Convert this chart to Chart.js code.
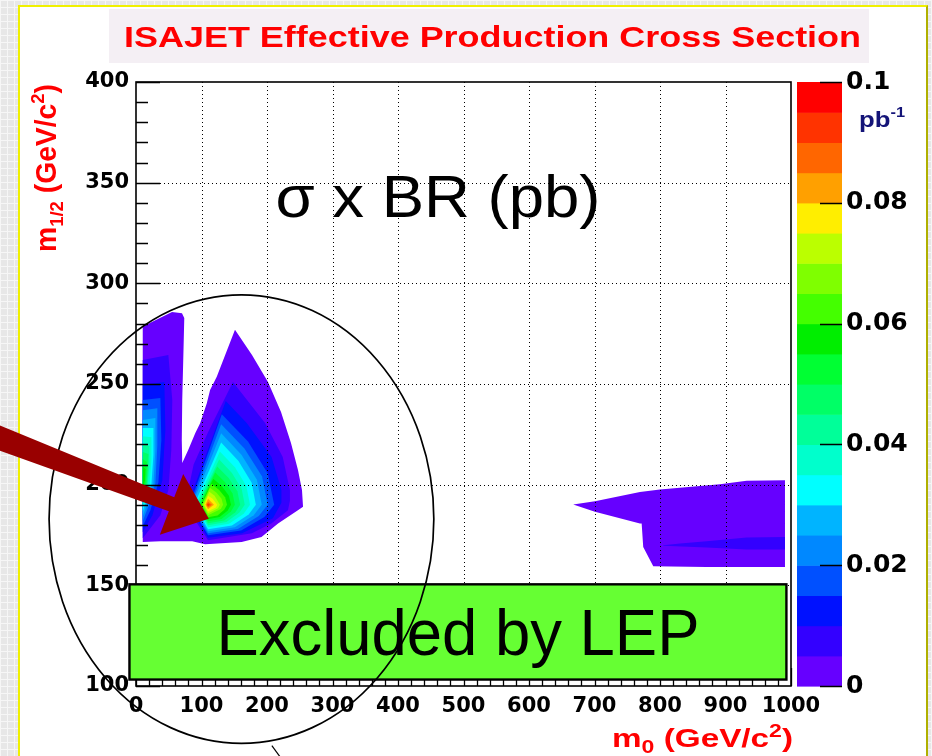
<!DOCTYPE html>
<html lang="en">
<head>
<meta charset="utf-8">
<title>ISAJET Effective Production Cross Section</title>
<script src="https://cdn.jsdelivr.net/npm/chart.js@4.4.1/dist/chart.umd.min.js"></script>
<style>
  html, body { margin: 0; padding: 0; }
  body {
    width: 932px; height: 756px; overflow: hidden; position: relative;
    background-color: #e7e7e7;
    background-image:
      linear-gradient(#f6f6f6 1px, transparent 1px),
      linear-gradient(90deg, #f6f6f6 1px, transparent 1px);
    background-size: 7px 7px;
  }
  #slide {
    position: absolute; left: 18px; top: 5px; width: 910px; height: 800px;
    box-sizing: border-box; background: #ffffff;
    border-left: 2px solid #f0f000; border-top: 2px solid #f0f000; border-right: 2px solid #b0b000;
  }
  #chart { position: absolute; left: 0; top: 0; }
</style>
</head>
<body>
<div id="slide"></div>
<canvas id="chart" width="932" height="756"></canvas>
<script>
// ---------- axes ----------
const X_TICKS = [0, 100, 200, 300, 400, 500, 600, 700, 800, 900, 1000];
const Y_TICKS = [100, 150, 200, 250, 300, 350, 400];
const Z_TICKS = [0, 0.02, 0.04, 0.06, 0.08, 0.1];

// ---------- contour levels (pb) and the palette of the 20 bands ----------
const CONTOUR_LEVELS = [0, 0.005, 0.01, 0.015, 0.02, 0.025, 0.03, 0.035, 0.04, 0.045, 0.05,
                        0.055, 0.06, 0.065, 0.07, 0.075, 0.08, 0.085, 0.09, 0.095, 0.1];
const BAND_COLORS = ['#6600ff', '#3300ff', '#0011ff', '#0050ff', '#0088ff', '#00b4ff', '#00ffff',
                     '#00ffcc', '#00ff99', '#00ff66', '#00ff33', '#00ee00', '#44ff00', '#7fff00',
                     '#bbff00', '#ffee00', '#ffa000', '#ff6600', '#ff3300', '#ff0000'];

// ---------- sigma x BR contours, (m0, m1/2) outlines ----------
// low-m0 island: outermost band (0 - 0.005 pb)
const islandBand0 = [[10.3,171.5],[10.3,278.5],[55,285.7],[70.2,285.2],[73.7,282.8],[72.9,271.9],
  [70.6,242],[69.9,222.1],[70.6,210.7],[79.7,217.2],[90.4,225.5],[97.9,230.5],[108.1,240.4],
  [113.1,247],[123.3,253.6],[151.1,276.9],[177.1,264.4],[201.5,251],[221.4,236.1],[236.6,220.7],
  [247.3,207.3],[253.4,197.4],[255,189],[247.2,187.3],[216.9,180.7],[191.6,174],[161.3,171.5],
  [105.5,170.4],[85.8,171.9],[37.2,171.9]];

// narrow strip along m0 ~ 10-70, bands 1..11
const stripBands = [
  [[10.3,261.9],[49.4,264.4],[55.4,242],[53.9,217.2],[49.4,197.3],[37.2,184.8],[10.3,173.4]],
  [[10.3,249.5],[43.3,251],[44.8,227.1],[40.2,202.2],[25.1,184.8],[10.3,176.4]],
  [[10.3,242],[37.2,243],[38.7,222.1],[34.2,201.2],[22,187.3],[10.3,179.4]],
  [[10.3,237],[32.6,238],[32.6,219.7],[29.6,200.7],[19,189.3],[10.3,181.8]],
  [[10.3,232.1],[29.6,233.1],[29.6,217.2],[26.6,200.2],[17.5,190.8],[10.3,184.3]],
  [[10.3,228.1],[26.6,228.1],[26.6,214.7],[23.5,199.8],[16,192.3],[10.3,186.8]],
  [[10.3,224.1],[23.5,223.6],[23.5,212.2],[20.5,199.3],[14.4,193.3],[10.3,189.3]],
  [[10.3,220.1],[20.5,219.2],[20.5,209.7],[17.5,198.8],[13.7,194.3],[10.3,191.3]],
  [[10.3,216.2],[19,215.2],[18.2,207.2],[15.9,198.3],[10.3,193.3]],
  [[10.3,212.7],[16.7,211.2],[15.9,204.7],[13.7,197.8],[10.3,195.3]],
  [[10.3,209.2],[14.4,207.7],[13.7,202.2],[10.3,197.3]]
];

// lobe peaking near m0 = 110, m1/2 = 190, bands 1..18
const peakBands = [
  [[148,251],[197,230.6],[224,213.7],[235,197.3],[235,192],[232,187.3],[207,180.8],[177,175.9],[110,172.4],[75,190],[88,210],[110,226]],
  [[137,241.5],[169,230.6],[207,213.7],[222,197.3],[222,191],[209,183.3],[162,175.9],[110,173.6],[79,190]],
  [[131,235],[171,221.5],[201,205.7],[211,190],[196,184],[160.5,177.2],[110,174.9],[82,190]],
  [[130,230],[165.5,218],[192.5,204],[201,190],[187.4,184.4],[155.5,178],[110,175.9],[84,190]],
  [[130,225.5],[161,214.9],[184.6,202.4],[192,190],[179.7,184.8],[151,178.9],[110,176.9],[86,190]],
  [[130,221],[156.5,211.7],[176.6,200.9],[183,190],[172,185.2],[146.5,179.7],[110,177.9],[89,190]],
  [[128,216.5],[151,208.6],[168.5,199.3],[174,190],[164.4,185.6],[142,180.6],[110,178.9],[91,190]],
  [[127,212.5],[146.5,205.8],[161.3,197.9],[166,190],[157.6,186],[138,181.4],[110,179.9],[93,190]],
  [[124,209],[141.5,203.3],[154.8,196.7],[159,190],[151.7,186.3],[134.5,182.2],[110,180.8],[95,190]],
  [[121,206],[136,201.2],[147.4,195.6],[151,190],[144.9,186.7],[130.5,183],[110,181.8],[97,190]],
  [[118,203],[131.5,199.1],[141.8,194.5],[145,190],[139.8,187.1],[127.5,183.9],[110,182.8],[98.5,190]],
  [[115,200.5],[127,197.4],[136,193.7],[139,190],[134.7,187.5],[124.5,184.7],[110,183.8],[100,190]],
  [[113,198.5],[123,196],[130.6,193],[133,190],[129.5,187.9],[110,184.8],[101.5,190]],
  [[112,196.5],[120,194.5],[128,190],[125.3,188.3],[110,185.8],[103,190]],
  [[110,194.5],[117,193],[124,190],[121.9,188.7],[110,186.8],[104.5,190]],
  [[110,193],[119,190],[110,187.8],[106,190]],
  [[110,191.5],[116,190],[110,188.6],[107.5,190]],
  [[110,190.6],[113,190],[110,189.3],[108.5,190]]
];

// high-m0 tongue, bands 0..1
const highMassBands = [
  [[667.5,190.2],[700.7,191.8],[769.4,196.4],[799.9,197.6],[891.5,200.2],[932.3,201.9],[990.8,202.2],
   [990.8,159.1],[871.3,159.1],[789.7,159.5],[774.4,169.1],[772,180.7],[769.4,180.7],[700.7,186.5]],
  [[805,169.9],[830.5,170.8],[871.3,171.9],[932.3,173.7],[990.8,174],[990.8,167.8],[932.3,167.8],
   [871.3,168.8],[805,169.7]]
];

// ---------- annotations (data units) ----------
const lepBoxX = [-10, 993];
const lepBoxY = [103.2, 150.5];
const circleCentre = [161, 182.9];
const circleRadii = [293.7, 111.4];
const circleLeader = [[207.4, 70.4], [224.2, 62.9]];
const arrowTail = [-223.3, 225.0];
const arrowTip = [111.2, 183.1];

const TITLE = 'ISAJET Effective Production Cross Section';
const PLOT_NOTE = 'σ x BR (pb)';
const BOX_LABEL = 'Excluded by LEP';

// ---------- datasets ----------
function contour(points, band) {
  return {
    type: 'line',
    data: points.map(p => ({ x: p[0], y: p[1] })),
    backgroundColor: BAND_COLORS[band],
    borderWidth: 0,
    pointRadius: 0,
    pointHoverRadius: 0,
    fill: 'shape',
    tension: 0,
    xAxisID: 'x',
    yAxisID: 'y',
    order: 100 - band
  };
}
const datasets = [contour(islandBand0, 0)];
stripBands.forEach((p, i) => datasets.push(contour(p, i + 1)));
peakBands.forEach((p, i) => datasets.push(contour(p, i + 1)));
highMassBands.forEach((p, i) => datasets.push(contour(p, i)));

// ---------- drawing helpers ----------
function fitText(ctx, str, font, cx, baseline, width, color) {
  ctx.save();
  ctx.font = font;
  ctx.fillStyle = color;
  ctx.textAlign = 'center';
  ctx.textBaseline = 'alphabetic';
  const w = ctx.measureText(str).width;
  ctx.translate(cx, baseline);
  ctx.scale(width / w, 1);
  ctx.fillText(str, 0, 0);
  ctx.restore();
}

// pieces: [text, size, baseline shift]; drawn left to right from the current origin
function richText(ctx, pieces, family, width, color) {
  ctx.save();
  ctx.fillStyle = color;
  ctx.textAlign = 'left';
  ctx.textBaseline = 'alphabetic';
  let total = 0;
  const widths = pieces.map(([t, size]) => {
    ctx.font = `bold ${size}px ${family}`;
    const w = ctx.measureText(t).width;
    total += w;
    return w;
  });
  ctx.scale(width / total, 1);
  let x = 0;
  pieces.forEach(([t, size, dy], i) => {
    ctx.font = `bold ${size}px ${family}`;
    ctx.fillText(t, x, dy);
    x += widths[i];
  });
  ctx.restore();
}

const SANS = '"Liberation Sans", Arial, sans-serif';

const decorations = {
  id: 'decorations',
  afterDatasetsDraw(chart) {
    const { ctx, chartArea: a, scales } = chart;
    const sx = scales.x, sy = scales.y, sz = scales.z;
    ctx.save();

    // dotted grid on top of the contours
    ctx.strokeStyle = '#000';
    ctx.lineWidth = 1;
    ctx.setLineDash([1, 3]);
    ctx.beginPath();
    X_TICKS.slice(1, -1).forEach(v => {
      const p = Math.round(sx.getPixelForValue(v)) + 0.5;
      ctx.moveTo(p, a.top); ctx.lineTo(p, a.bottom);
    });
    Y_TICKS.slice(1, -1).forEach(v => {
      const p = Math.round(sy.getPixelForValue(v)) + 0.5;
      ctx.moveTo(a.left, p); ctx.lineTo(a.right, p);
    });
    ctx.stroke();
    ctx.setLineDash([]);

    // inward tick marks, five divisions between labelled ticks
    ctx.lineWidth = 1.3;
    ctx.beginPath();
    X_TICKS.forEach((v, i) => {
      const p = Math.round(sx.getPixelForValue(v)) + 0.5;
      ctx.moveTo(p, a.bottom); ctx.lineTo(p, a.bottom - 18);
      if (i < X_TICKS.length - 1) {
        const step = (X_TICKS[i + 1] - v) / 5;
        for (let k = 1; k < 5; k++) {
          const q = Math.round(sx.getPixelForValue(v + k * step)) + 0.5;
          ctx.moveTo(q, a.bottom); ctx.lineTo(q, a.bottom - 9);
        }
      }
    });
    Y_TICKS.forEach((v, i) => {
      const p = Math.round(sy.getPixelForValue(v)) + 0.5;
      ctx.moveTo(a.left, p); ctx.lineTo(a.left + 24, p);
      if (i < Y_TICKS.length - 1) {
        const step = (Y_TICKS[i + 1] - v) / 5;
        for (let k = 1; k < 5; k++) {
          const q = Math.round(sy.getPixelForValue(v + k * step)) + 0.5;
          ctx.moveTo(a.left, q); ctx.lineTo(a.left + 12, q);
        }
      }
    });
    ctx.stroke();

    // frame
    ctx.lineWidth = 1.6;
    ctx.strokeRect(a.left, a.top, a.right - a.left, a.bottom - a.top);

    // colour scale
    const barL = a.right + 6, barR = a.right + 51;
    BAND_COLORS.forEach((c, i) => {
      const y0 = sz.getPixelForValue(CONTOUR_LEVELS[i]);
      const y1 = sz.getPixelForValue(CONTOUR_LEVELS[i + 1]);
      ctx.fillStyle = c;
      ctx.fillRect(barL, y1, barR - barL, y0 - y1 + 0.6);
    });
    ctx.lineWidth = 1.5;
    ctx.beginPath();
    Z_TICKS.forEach(v => {
      const p = Math.round(sz.getPixelForValue(v)) + 0.5;
      ctx.moveTo(barR - 22, p); ctx.lineTo(barR, p);
    });
    ctx.stroke();
    ctx.restore();
  },

  afterDraw(chart) {
    const { ctx, scales } = chart;
    const sx = scales.x, sy = scales.y;
    const X = v => sx.getPixelForValue(v), Y = v => sy.getPixelForValue(v);
    ctx.save();

    // title
    ctx.fillStyle = '#f4eff4';
    ctx.fillRect(109, 9, 760, 54);
    fitText(ctx, TITLE, `bold 30px ${SANS}`, 492.5, 47, 737, '#ff0000');

    // axis titles
    ctx.save();
    ctx.translate(612, 747);
    richText(ctx, [['m', 26, 0], ['0', 18, 6], [' (GeV/c', 26, 0], ['2', 18, -10], [')', 26, 0]], SANS, 181, '#ff0000');
    ctx.restore();
    ctx.save();
    ctx.translate(56, 252);
    ctx.rotate(-Math.PI / 2);
    richText(ctx, [['m', 29, 0], ['1/2', 19, 7], [' (GeV/c', 29, 0], ['2', 19, -12], [')', 29, 0]], SANS, 168, '#ff0000');
    ctx.restore();

    // units of the colour scale
    ctx.save();
    ctx.translate(859, 127);
    richText(ctx, [['pb', 22, 0], ['-1', 14, -10]], SANS, 46, '#141478');
    ctx.restore();

    // quantity label
    fitText(ctx, PLOT_NOTE, `60px ${SANS}`, 438, 217, 325, '#000');

    // LEP excluded band
    const bx0 = X(lepBoxX[0]), bx1 = X(lepBoxX[1]);
    const by0 = Y(lepBoxY[1]), by1 = Y(lepBoxY[0]);
    ctx.fillStyle = '#66ff33';
    ctx.fillRect(bx0, by0, bx1 - bx0, by1 - by0);
    ctx.strokeStyle = '#000';
    ctx.lineWidth = 2.4;
    ctx.strokeRect(bx0, by0, bx1 - bx0, by1 - by0);
    fitText(ctx, BOX_LABEL, `64px ${SANS}`, (bx0 + bx1) / 2, (by0 + by1) / 2 + 23, 483, '#000');

    // ellipse around the low-m0 region
    const cx = X(circleCentre[0]), cy = Y(circleCentre[1]);
    const rx = Math.abs(X(circleCentre[0] + circleRadii[0]) - cx);
    const ry = Math.abs(Y(circleCentre[1] + circleRadii[1]) - cy);
    ctx.strokeStyle = '#000';
    ctx.lineWidth = 1.7;
    ctx.beginPath();
    ctx.ellipse(cx, cy, rx, ry, 0, 0, Math.PI * 2);
    ctx.stroke();
    ctx.lineWidth = 1.2;
    ctx.beginPath();
    ctx.moveTo(X(circleLeader[0][0]), Y(circleLeader[0][1]));
    ctx.lineTo(X(circleLeader[1][0]), Y(circleLeader[1][1]));
    ctx.stroke();

    // arrow pointing at the maximum
    const x0 = X(arrowTail[0]), y0 = Y(arrowTail[1]);
    const x1 = X(arrowTip[0]), y1 = Y(arrowTip[1]);
    const L = Math.hypot(x1 - x0, y1 - y0);
    const ux = (x1 - x0) / L, uy = (y1 - y0) / L, nx = -uy, ny = ux;
    const headLen = 40, headHalf = 32.5, neckHalf = 7.5, tailHalf = 12;
    const hx = x1 - ux * headLen, hy = y1 - uy * headLen;
    ctx.fillStyle = '#990000';
    ctx.beginPath();
    ctx.moveTo(x0 + nx * tailHalf, y0 + ny * tailHalf);
    ctx.lineTo(hx + nx * neckHalf, hy + ny * neckHalf);
    ctx.lineTo(hx + nx * headHalf, hy + ny * headHalf);
    ctx.lineTo(x1, y1);
    ctx.lineTo(hx - nx * headHalf, hy - ny * headHalf);
    ctx.lineTo(hx - nx * neckHalf, hy - ny * neckHalf);
    ctx.lineTo(x0 - nx * tailHalf, y0 - ny * tailHalf);
    ctx.closePath();
    ctx.fill();

    ctx.restore();
  }
};

const tickFont = { family: "'DejaVu Sans', sans-serif", size: 21, weight: 'bold' };

new Chart(document.getElementById('chart'), {
  type: 'line',
  data: { datasets },
  options: {
    responsive: false,
    animation: false,
    events: [],
    layout: { padding: { top: 82, left: 0, right: 0, bottom: 0 } },
    plugins: { legend: { display: false }, tooltip: { enabled: false } },
    scales: {
      x: {
        type: 'linear', position: 'bottom', min: 0, max: 1000,
        afterBuildTicks: s => { s.ticks = X_TICKS.map(v => ({ value: v })); },
        ticks: { autoSkip: false, maxRotation: 0, minRotation: 0, padding: 8, color: '#000',
                 font: tickFont, callback: v => String(v) },
        grid: { display: false, drawTicks: false },
        border: { display: false },
        afterFit: s => { s.height = 70; }
      },
      y: {
        type: 'linear', position: 'left', min: 100, max: 400,
        afterBuildTicks: s => { s.ticks = Y_TICKS.map(v => ({ value: v })); },
        ticks: { autoSkip: false, padding: 7, color: '#000', font: tickFont, callback: v => String(v) },
        grid: { display: false, drawTicks: false },
        border: { display: false },
        afterFit: s => { s.width = 136; }
      },
      z: {
        type: 'linear', position: 'right', min: 0, max: 0.1,
        afterBuildTicks: s => { s.ticks = Z_TICKS.map(v => ({ value: v })); },
        ticks: { autoSkip: false, padding: 4, color: '#000',
                 font: { family: "'DejaVu Sans', sans-serif", size: 25, weight: 'bold' },
                 callback: v => String(v) },
        grid: { display: false, drawTicks: true, tickLength: 51 },
        border: { display: false },
        afterFit: s => { s.width = 141; }
      }
    }
  },
  plugins: [decorations]
});
</script>
</body>
</html>
